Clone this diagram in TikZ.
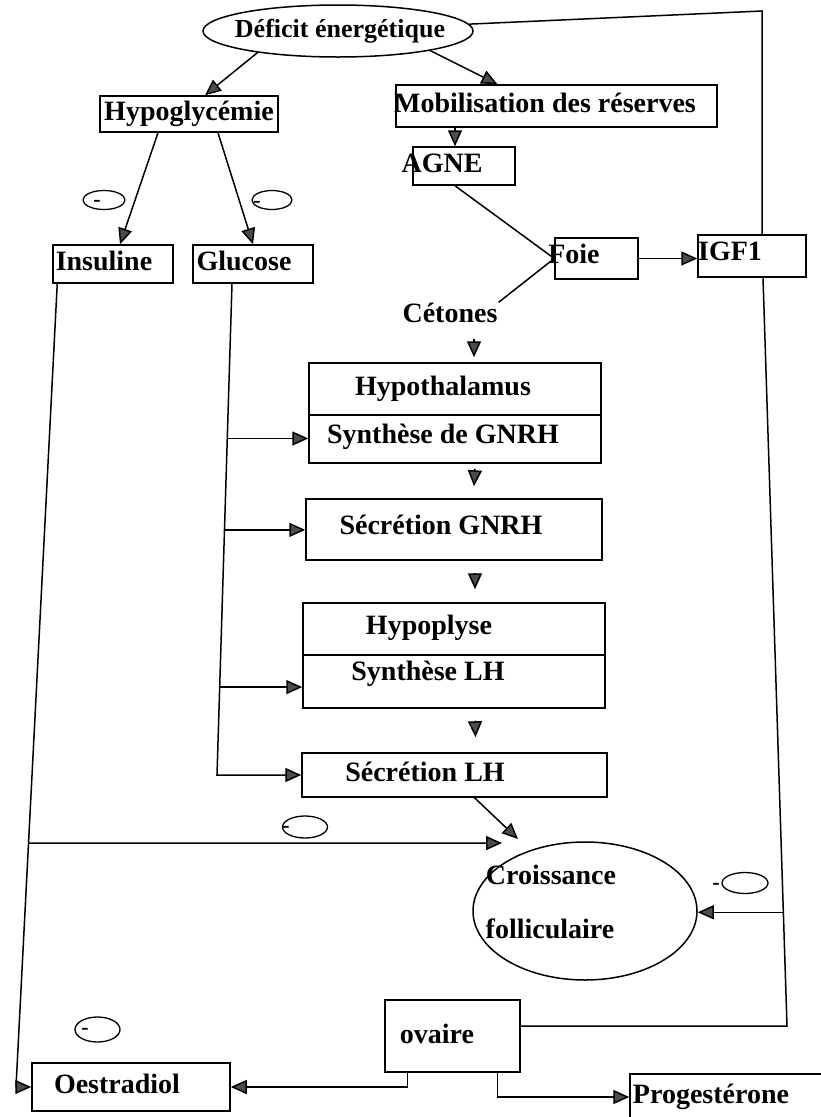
\documentclass[tikz,border=0pt]{standalone}
\usepackage{fontspec}
\setmainfont{Liberation Serif}
\usetikzlibrary{arrows.meta,shapes.geometric}

\begin{document}
\begin{tikzpicture}[x=1pt,y=-1pt,
  trait/.style={line width=1.5pt},
  fleche/.style={trait,-{Triangle[length=16pt,width=14pt,fill=black!70]}},
  boite/.style={draw,trait,rectangle,inner sep=0pt},
  bulle/.style={draw,trait,ellipse,inner sep=0pt},
  txt/.style={inner sep=1pt,font=\fontsize{28}{30}\selectfont\bfseries,text height=19pt,text depth=6pt},
  signe/.style={draw,line width=1.3pt,ellipse,inner sep=0pt},
  tiret/.style={inner sep=0pt,font=\fontsize{22}{22}\selectfont\bfseries}]
\useasboundingbox (0,0) rectangle (821,1117);
\clip (0,0) rectangle (821,1117);
% Drawing boxes
\node[bulle,minimum width=270pt,minimum height=52pt] (deficit) at (338.0,31.0) {};
\node[txt,font=\fontsize{26}{28}\selectfont\bfseries] (tdeficit) at (340.0,31.0) {Déficit énergétique};
\node[boite,minimum width=178pt,minimum height=36pt] (hypo) at (189.0,114.0) {};
\node[txt] (thypo) at (189.0,114.0) {Hypoglycémie};
\node[boite,minimum width=321pt,minimum height=42pt] (mobil) at (556.5,106.0) {};
\node[txt] (tmobil) at (545.0,106.0) {Mobilisation des réserves};
\node[boite,minimum width=102pt,minimum height=38pt] (agne) at (464.0,166.0) {};
\node[txt] (tagne) at (442.0,166.0) {AGNE};
\node[boite,minimum width=83pt,minimum height=41pt] (foie) at (596.5,258.5) {};
\node[txt] (tfoie) at (574.0,257.0) {Foie};
\node[boite,minimum width=108pt,minimum height=42pt] (igf) at (752.0,256.0) {};
\node[txt] (tigf) at (730.0,254.0) {IGF1};
\node[boite,minimum width=120pt,minimum height=38pt] (insuline) at (113.0,264.0) {};
\node[txt] (tinsuline) at (104.0,264.0) {Insuline};
\node[boite,minimum width=120pt,minimum height=38pt] (glucose) at (253.0,264.0) {};
\node[txt] (tglucose) at (244.0,264.0) {Glucose};
\node[txt] (tcetones) at (450.0,316.0) {Cétones};
\node[boite,minimum width=292pt,minimum height=52pt] (hypoth) at (455.0,389.0) {};
\node[txt] (thypoth) at (443.0,389.0) {Hypothalamus};
\node[boite,minimum width=292pt,minimum height=48pt] (synthG) at (455.0,439.0) {};
\node[txt] (tsynthG) at (443.0,437.0) {Synthèse de GNRH};
\node[boite,minimum width=296pt,minimum height=61pt] (secG) at (454.0,529.5) {};
\node[txt] (tsecG) at (441.0,528.0) {Sécrétion GNRH};
\node[boite,minimum width=302pt,minimum height=52pt] (hypoph) at (454.0,629.0) {};
\node[txt] (thypoph) at (429.0,628.0) {Hypoplyse};
\node[boite,minimum width=302pt,minimum height=53pt] (synthL) at (454.0,681.5) {};
\node[txt] (tsynthL) at (428.0,674.0) {Synthèse LH};
\node[boite,minimum width=305pt,minimum height=44pt] (secL) at (454.5,775.0) {};
\node[txt] (tsecL) at (425.0,775.0) {Sécrétion LH};
\node[bulle,minimum width=224pt,minimum height=138pt] (crois) at (585.0,911.0) {};
\node[txt] (tcrois) at (551.0,878.0) {Croissance};
\node[txt] (tfoll) at (550.0,932.0) {folliculaire};
\node[boite,minimum width=135pt,minimum height=72pt] (ovaire) at (452.5,1036.0) {};
\node[txt] (tovaire) at (437.0,1037.0) {ovaire};
\node[boite,minimum width=198pt,minimum height=48pt] (oestra) at (131.0,1087.0) {};
\node[txt] (toestra) at (117.0,1087.0) {Oestradiol};
\node[boite,minimum width=240pt,minimum height=46pt] (proge) at (750.0,1097.0) {};
\node[txt] (tproge) at (711.0,1097.0) {Progestérone};
% Minus signs
\node[signe,minimum width=42pt,minimum height=19pt] (m1) at (104.0,200.0) {};
\node[tiret] (d1) at (97.0,203.0) {-};
\node[signe,minimum width=40pt,minimum height=19pt] (m2) at (272.0,200.0) {};
\node[tiret] (d2) at (257.0,204.0) {-};
\node[signe,minimum width=45pt,minimum height=22pt] (m3) at (305.0,827.0) {};
\node[tiret] (d3) at (286.0,829.0) {-};
\node[signe,minimum width=46pt,minimum height=21pt] (m4) at (745.0,883.0) {};
\node[tiret] (d4) at (716.0,886.0) {-};
\node[signe,minimum width=45pt,minimum height=25pt] (m5) at (97.5,1029.5) {};
\node[tiret] (d5) at (85.0,1031.0) {-};
% Done with boxes; drawing connectors
\draw[fleche] (deficit.195) -- ([xshift=16pt]hypo.north);
\draw[fleche] (deficit.-12) -- ([xshift=-59pt]mobil.north);
\coordinate (coinH) at (762.0,11.0);
\draw[trait] (deficit.3) -- (coinH) -- (coinH |- igf.north);
\draw[fleche] ([xshift=-9pt]agne.north |- mobil.south) -- ([xshift=-9pt]agne.north);
\draw[trait] ([xshift=-9pt]agne.south) -- (foie.west);
\draw[trait] (foie.west) -- (tcetones.north east);
\draw[fleche] (foie.east) -- (foie.east -| igf.west);
\draw[fleche] ([xshift=-31pt]hypo.south) -- ([xshift=7pt]insuline.north);
\draw[fleche] ([xshift=29pt]hypo.south) -- (glucose.north);
% Glucose line
\coordinate (glA) at ([xshift=-21pt]glucose.south);
\coordinate (glB) at (217.0,775.0);
\draw[fleche] (glA) -- (glB) -- (secL.west);
\path (glA) -- (glB) coordinate[pos=0.315] (gl1) coordinate[pos=0.501] (gl2) coordinate[pos=0.821] (gl3);
\draw[fleche] (gl1) -- (gl1 -| synthG.west);
\draw[fleche] (gl2) -- (gl2 -| secG.west);
\draw[fleche] (gl3) -- (gl3 -| synthL.west);
% Axis arrows
\draw[fleche] ([xshift=19pt,yshift=23pt]hypoth.north) -- ([xshift=19pt,yshift=5pt]hypoth.north);
\draw[fleche] ([xshift=20pt,yshift=-5pt]synthG.south) -- ([xshift=20pt,yshift=12pt]secG.north);
\draw[fleche] ([xshift=21pt,yshift=-12pt]secG.south) -- ([xshift=21pt,yshift=13pt]hypoph.north);
\draw[fleche] ([xshift=21pt,yshift=-12pt]synthL.south) -- ([xshift=21pt,yshift=15pt]secL.north);
\coordinate (flecheL) at (518.0,839.0);
\draw[fleche] ([xshift=20pt]secL.south) -- (flecheL);
% Insuline line
\coordinate (insA) at ([xshift=5pt]insuline.south west);
\coordinate (basG) at (16.0,1087.0);
\draw[fleche] (insA) -- (basG) -- (oestra.west);
\path (insA) -- (basG) coordinate[pos=0.6965] (brC);
\coordinate (flecheC) at (502.0,843.0);
\draw[fleche] (brC) -- (flecheC);
% IGF1 and ovaire line
\coordinate (igfB) at ([xshift=11pt]igf.south);
\coordinate (basD) at (787.0,1026.0);
\draw[trait] (igfB) -- (basD) -- ([yshift=10pt]ovaire.east);
\path (igfB) -- (basD) coordinate[pos=0.848] (brD);
\draw[fleche] (brD) -- (brD -| crois.east);
\draw[fleche] ([xshift=-45pt]ovaire.south) |- (oestra.east);
\draw[fleche] ([xshift=45pt]ovaire.south) |- (proge.west);
% Done with connectors
\end{tikzpicture}
\end{document}
